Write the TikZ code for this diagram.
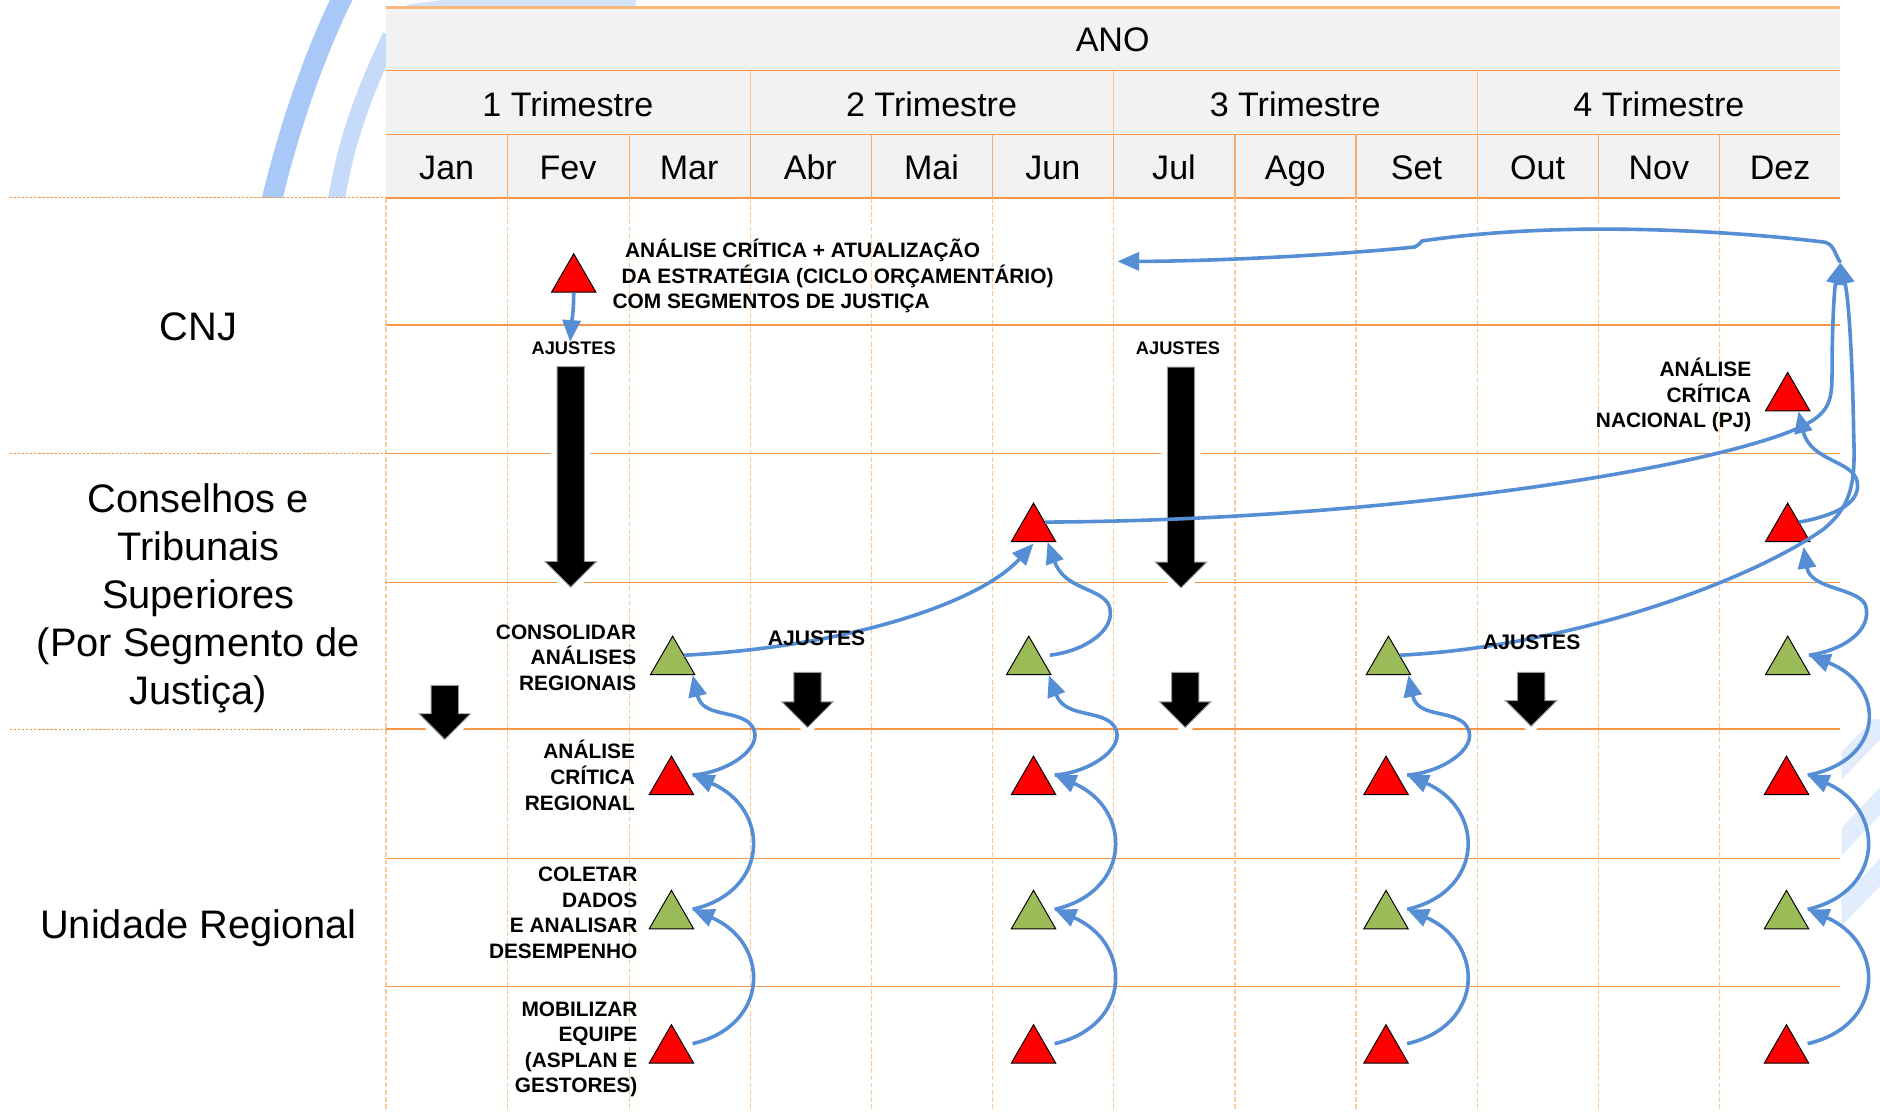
\documentclass[tikz,border=0pt]{standalone}
\usepackage{fontspec}
\setmainfont{Liberation Sans}
\usetikzlibrary{arrows.meta,shapes.geometric,shapes.arrows}

\definecolor{laranja}{RGB}{247,150,70}
\definecolor{laranjaclaro}{RGB}{251,200,150}
\definecolor{cinzacab}{RGB}{242,242,242}
\definecolor{azulseta}{RGB}{85,142,213}
\definecolor{verdetri}{RGB}{155,187,89}
\definecolor{azulfundo}{RGB}{168,200,248}

\tikzset{
  marco/.style={regular polygon, regular polygon sides=3, minimum size=21.4pt,
    inner sep=0pt, draw=black, line width=0.4pt},
  marcoV/.style={marco, fill=red},
  marcoG/.style={marco, fill=verdetri},
  fluxo/.style={draw=azulseta, line width=1.5pt, -{Triangle[length=9pt,width=7.5pt]}},
  setaaj/.style={single arrow, rotate=-90, fill=black, draw=black!40, line width=0.4pt,
    inner sep=5.5pt, minimum width=21pt, single arrow head extend=5pt,
    single arrow tip angle=90, single arrow head indent=0pt,
    preaction={draw=white, line width=5pt}},
  cab/.style={font=\fontsize{14.2}{17}\selectfont, inner sep=0pt, anchor=base},
  linha/.style={font=\fontsize{16.6}{20}\selectfont, inner sep=0pt, align=center},
  etapa/.style={font=\bfseries\fontsize{8.7}{10.65}\selectfont, inner sep=0pt},
  ajuste/.style={font=\bfseries\fontsize{7.6}{9}\selectfont, inner sep=0pt, anchor=base},
  ajusteM/.style={font=\bfseries\fontsize{8.8}{10}\selectfont, inner sep=0pt, anchor=base},
  grade/.style={laranja, line width=0.6pt}
}

\begin{document}
\begin{tikzpicture}[x=0.5pt, y=-0.5pt]
\useasboundingbox (0,0) rectangle (1568,927);

% fundo
\begin{scope}
  \clip (0,0) rectangle (322,165);
  \draw[azulfundo, line width=8.5pt] (226,170) .. controls (240,110) and (262,45) .. (287,-5);
  \draw[azulfundo!65, line width=7pt] (280,170) .. controls (288,120) and (302,80) .. (326,30);
\end{scope}
\begin{scope}
  \clip (322,0) rectangle (1535,6);
  \draw[azulfundo!50, line width=6pt] (340,10) .. controls (400,0) and (480,0) .. (530,6);
\end{scope}
\begin{scope}
  \clip (1536,600) rectangle (1568,800);
  \foreach \y in {640,703,762}
    \draw[azulfundo!35, line width=8pt] (1530,{\y+5}) -- (1575,{\y-42});
\end{scope}

% cabecalho
\fill[cinzacab] (322,6) rectangle (1535,165);
\draw[laranja!70, line width=1.2pt] (322,6) -- (1535,6);
\foreach \y in {59,112,165} \draw[grade] (322,\y) -- (1535,\y);
\foreach \x in {626,929,1232} \draw[laranja!60, line width=0.5pt] (\x,59) -- (\x,112);
\foreach \x in {423,525,626,727,828,929,1030,1131,1232,1333,1434}
  \draw[laranja!80, line width=0.5pt] (\x,112) -- (\x,165);
\node[cab] (ano) at (928,43) {ANO};
\foreach \t in {1,...,4}
  \node[cab] (tri\t) at ({322+303.3*(\t-0.5)},97) {\t\ Trimestre};
\foreach \m [count=\i] in {Jan,Fev,Mar,Abr,Mai,Jun,Jul,Ago,Set,Out,Nov,Dez}
  \node[cab] (mes\i) at ({322+101.1*(\i-0.5)},150) {\m};

% grade
\foreach \x in {322,423,525,626,727,828,929,1030,1131,1232,1333,1434}
  \draw[laranjaclaro, line width=0.5pt, dash pattern=on 2pt off 1pt] (\x,165) -- (\x,927);
\foreach \y in {271,378,486,608,716,823} \draw[grade] (322,\y) -- (1535,\y);
\foreach \y in {165,378,608}
  \draw[laranja, line width=0.4pt, dash pattern=on 1pt off 0.7pt] (8,\y) -- (322,\y);

% linhas
\node[linha, anchor=base] (cnj) at (165.5,284) {CNJ};
\node[linha, anchor=north] (conselhos) at (165.5,403) {Conselhos e\\Tribunais\\Superiores\\(Por Segmento de\\Justiça)};
\node[linha, anchor=base] (unidade) at (165.5,783) {Unidade Regional};

% setas de ajuste
\node[setaaj, minimum height=92pt] (setaFev) at (476,392) {};
\node[setaaj, minimum height=92pt] (setaJul) at (985,392.5) {};
\node[setaaj, minimum height=22.5pt] (setaJan) at (371,588.5) {};
\node[setaaj, minimum height=23pt] (setaMai) at (673.5,578) {};
\node[setaaj, minimum height=23pt] (setaAgo) at (988.5,578) {};
\node[setaaj, minimum height=22.5pt] (setaOut) at (1277,577.5) {};

% marcos
\node[marcoV] (cnjT) at (478.5,233) {};
\node[marcoV] (nac) at (1491,332) {};
\node[marcoV] (conJun) at (862,441) {};
\node[marcoV] (conDez) at (1491,441) {};
\foreach \c/\x/\xc in {Mar/560/561, Jun/862/858, Set/1156/1158, Dez/1490/1491} {
  \node[marcoG] (cons\c) at (\xc,552) {};
  \node[marcoV] (acr\c) at (\x,652) {};
  \node[marcoG] (col\c) at (\x,764) {};
  \node[marcoV] (mob\c) at (\x,876) {};
}

% textos
\node[etapa, align=left, anchor=base west] (tcnj) at (510.5,257.6)
  {\hspace*{5.25pt}ANÁLISE CRÍTICA + ATUALIZAÇÃO\\\hspace*{3.75pt}DA ESTRATÉGIA (CICLO ORÇAMENTÁRIO)\\COM SEGMENTOS DE JUSTIÇA};
\node[etapa, align=right, anchor=base east] (tnac) at (1461,356.6) {ANÁLISE\\CRÍTICA\\NACIONAL (PJ)};
\node[etapa, align=right, anchor=base east] (tcons) at (531,575.6) {CONSOLIDAR\\ANÁLISES\\REGIONAIS};
\node[etapa, align=right, anchor=base east] (tacr) at (530,675.6) {ANÁLISE\\CRÍTICA\\REGIONAL};
\node[etapa, align=right, anchor=base east] (tcol) at (532,799.4) {COLETAR\\DADOS\\E ANALISAR\\DESEMPENHO};
\node[etapa, align=right, anchor=base east] (tmob) at (532,911.4) {MOBILIZAR\\EQUIPE\\(ASPLAN E\\GESTORES)};
\node[ajuste] (ajT1) at (478.5,296) {AJUSTES};
\node[ajuste] (ajT2) at (982.5,296) {AJUSTES};

% fluxos
\coordinate (topo) at (1535,219);
\coordinate (retorno) at (932,218);
\foreach \c in {Mar,Jun,Set,Dez} {
  \draw[fluxo] ([xshift=4pt]mob\c.side 3) .. controls +(65,-15) and +(65,28) .. ([xshift=4pt]col\c.side 3);
  \draw[fluxo] ([xshift=4pt]col\c.side 3) .. controls +(65,-15) and +(65,28) .. ([xshift=4pt]acr\c.side 3);
}
\foreach \c/\x in {Mar/560,Jun/862,Set/1156}
  \draw[fluxo] ([xshift=4pt]acr\c.side 3) .. controls ({\x+50},644) and ({\x+82},620) .. ({\x+65},603)
    .. controls ({\x+52},592) and ({\x+26},598) .. ([xshift=-1.25pt]cons\c.corner 3);
\draw[fluxo] ([xshift=4pt]acrDez.side 3) .. controls +(65,-12) and +(65,25) .. ([xshift=4pt]consDez.side 3);
\draw[fluxo] (consMar.side 3) .. controls (700,540) and (815,505) .. ([yshift=-0.6pt]conJun.side 2);
\draw[fluxo] ([xshift=4pt]consJun.side 3) .. controls (905,543) and (932,525) .. (925,505)
  .. controls (918,490) and (888,492) .. ([xshift=-3.75pt]conJun.corner 3);
\draw[fluxo] ([xshift=4pt]consDez.side 3) .. controls (1535,543) and (1562,527) .. (1556,505)
  .. controls (1550,490) and (1510,492) .. ([shift={(-3pt,-2pt)}]conDez.corner 3);
\draw[fluxo] (conDez.side 3) .. controls (1530,430) and (1552,420) .. (1549,402)
  .. controls (1546,384) and (1510,385) .. ([xshift=4.5pt]nac.side 2);
\draw[fluxo] (conJun.side 3) .. controls (1150,434) and (1420,392) .. (1500,357)
  .. controls (1526,345) and (1528,335) .. (1528,310) .. controls (1528,270) and (1530,240) .. (topo);
\draw[fluxo] (consSet.side 3) .. controls (1300,540) and (1450,490) .. (1520,442)
  .. controls (1548,420) and (1547,395) .. (1546,360) .. controls (1545,300) and (1542,250) .. (topo);
\draw[fluxo] (topo) .. controls (1530,212) and (1530,204) .. (1522,202)
  .. controls (1440,192) and (1300,184) .. (1186,201) .. controls (1184,203) and (1183,205) .. (1180,206)
  .. controls (1100,214) and (1000,218) .. (retorno);
\draw[fluxo] (cnjT.side 2) .. controls +(0,18) and +(1,-15) .. ([xshift=-1.5pt]ajT1.north);

\node[ajusteM] (ajM1) at (681,538) {AJUSTES};
\node[ajusteM] (ajM2) at (1277.5,542) {AJUSTES};
\end{tikzpicture}
\end{document}
